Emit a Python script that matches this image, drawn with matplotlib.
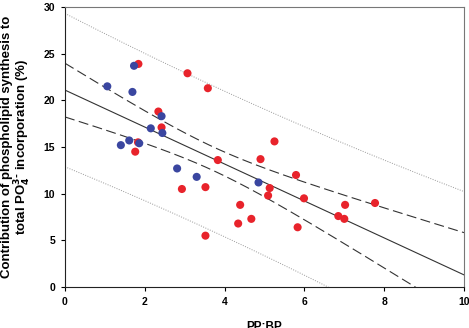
import numpy as np
import matplotlib
matplotlib.use("Agg")
import matplotlib.pyplot as plt

plt.rcParams['font.family'] = ['Liberation Sans', 'DejaVu Sans']
plt.rcParams['font.weight'] = 'bold'

# blue group
blue_x = [1.06, 1.73, 1.69, 2.42, 2.15, 2.44, 1.61, 1.40, 1.86, 2.81, 3.30, 4.85]
blue_y = [21.5, 23.7, 20.9, 18.3, 17.0, 16.5, 15.7, 15.2, 15.4, 12.7, 11.8, 11.2]
# red group
red_x = [1.84, 3.07, 3.58, 2.34, 2.42, 1.83, 1.76, 3.83, 2.93, 3.52, 3.52, 4.39,
         4.34, 4.90, 5.25, 5.79, 5.13, 5.09, 5.99, 7.02, 7.77, 4.67, 5.83, 6.85, 7.00]
red_y = [23.9, 22.9, 21.3, 18.8, 17.1, 15.5, 14.5, 13.6, 10.5, 10.7, 5.5, 8.8,
         6.8, 13.7, 15.6, 12.0, 10.6, 9.8, 9.5, 8.8, 9.0, 7.3, 6.4, 7.6, 7.3]

x_all = np.array(blue_x + red_x)
y_all = np.array(blue_y + red_y)
n = len(x_all)
slope, icpt = np.polyfit(x_all, y_all, 1)
resid = y_all - (icpt + slope * x_all)
s = np.sqrt(np.sum(resid ** 2) / (n - 2))
t = 2.03  # t(0.975, df=n-2)
sxx = np.sum((x_all - x_all.mean()) ** 2)

xx = np.linspace(0, 10, 200)
yy = icpt + slope * xx
ci = t * s * np.sqrt(1 / n + (xx - x_all.mean()) ** 2 / sxx)
pi = t * s * np.sqrt(1 + 1 / n + (xx - x_all.mean()) ** 2 / sxx)

fig = plt.figure(figsize=(4.69, 3.28), dpi=100)
ax = fig.add_axes([65 / 469, 1 - 287 / 328, 399 / 469, 280 / 328])

ax.plot(xx, yy, color='#333333', lw=0.8)
ax.plot(xx, yy + ci, color='#333333', lw=0.8, dashes=(9, 4))
ax.plot(xx, yy - ci, color='#333333', lw=0.8, dashes=(9, 4))
ax.plot(xx, yy + pi, color='#999999', lw=0.7, ls=(0, (1, 1.5)))
ax.plot(xx, yy - pi, color='#999999', lw=0.7, ls=(0, (1, 1.5)))

ax.scatter(red_x, red_y, s=34, color='#e8232b', edgecolors='none', zorder=3)
ax.scatter(blue_x, blue_y, s=34, color='#3a46a0', edgecolors='none', zorder=4)

ax.set_xlim(0, 10)
ax.set_ylim(0, 30)
ax.set_xticks([0, 2, 4, 6, 8, 10])
ax.set_yticks([0, 5, 10, 15, 20, 25, 30])
ax.tick_params(labelsize=7.5, length=3, width=0.8, pad=4)
for lab in ax.get_xticklabels() + ax.get_yticklabels():
    lab.set_fontweight('bold')
for side in ['left', 'bottom']:
    ax.spines[side].set_color('#222222')
for side in ['top', 'right']:
    ax.spines[side].set_color('#777777')

ax.set_xlabel('PP:BP', fontsize=8.5, fontweight='bold', labelpad=10)
ax.set_ylabel('Contribution of phospholipid synthesis to\n'
              'total PO$_{\\mathbf{4}}^{\\mathbf{3\\text{-}}}$ incorporation (%)',
              fontsize=9.5, fontweight='bold', labelpad=8, linespacing=1.0)

fig.savefig('out.png', dpi=100)
